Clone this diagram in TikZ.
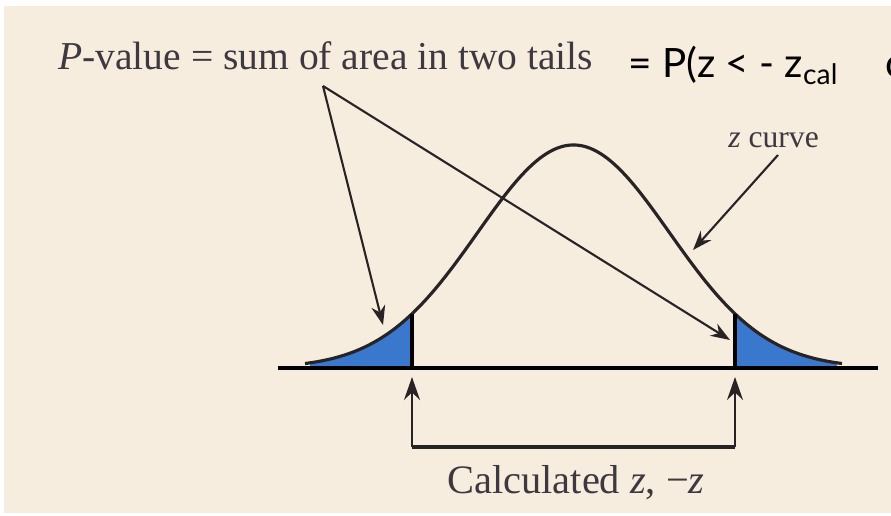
\documentclass[tikz,border=0pt]{standalone}
\usepackage{fontspec}
\setmainfont{Liberation Serif}
\newfontfamily\gillfont{Lato}
\usepackage{tikz}
\usetikzlibrary{arrows.meta, positioning, calc}
\definecolor{paper}{RGB}{246,237,222}
\definecolor{tailblue}{RGB}{58,120,206}
\definecolor{inkgray}{RGB}{40,36,38}
\definecolor{textgray}{RGB}{62,56,64}
\tikzset{
  label/.style={inner sep=0pt, text=textgray, font=\fontsize{22.5}{27}\selectfont},
  pointer/.style={-{Stealth[length=11pt, width=8pt]}, line width=1.2pt, color=inkgray},
  uparrow/.style={-{Stealth[length=13pt, width=9pt]}, line width=1.5pt, color=inkgray},
  zcurve/.style={line width=1.8pt, color=inkgray},
  axisline/.style={line width=2.2pt, color=black},
  critline/.style={line width=2.5pt, color=black},
  bracketline/.style={line width=1.8pt, color=inkgray},
}
\begin{document}
\begin{tikzpicture}[x=0.02cm, y=-0.02cm]
  \useasboundingbox (0,0) rectangle (891,516);
  \clip (0,0) rectangle (891,516);
  \fill[paper] (4,6) rectangle (891,513);
  % tails
  \fill[tailblue] (310,368) -- plot[domain=310:412, samples=40]
        (\x, {368-223*exp(-((\x-573.5)/96)^2/2)}) -- (412,368) -- cycle;
  \fill[tailblue] (735,368) -- plot[domain=735:837, samples=40]
        (\x, {368-223*exp(-((\x-573.5)/96)^2/2)}) -- (837,368) -- cycle;
  \draw[zcurve] plot[domain=305:842, samples=150]
        (\x, {368-223*exp(-((\x-573.5)/96)^2/2)});
  \draw[axisline] (278,368) -- (878,368);
  \draw[critline] (412,368) -- (412,{368-223*exp(-((412-573.5)/96)^2/2)});
  \draw[critline] (735,368) -- (735,{368-223*exp(-((735-573.5)/96)^2/2)});
  % labels
  \node[label, anchor=base west] (pval) at (58,70)
        {\textit{P}-value = sum of area in two tails};
  \node[inner sep=0pt, anchor=base west, font=\gillfont\fontsize{23}{28}\selectfont]
        (prob) at (628,78) {= P(z < - z\textsubscript{cal}\hspace{0.9em} or};
  \node[label, anchor=base west, font=\fontsize{18}{22}\selectfont] (zlab) at (728,148)
        {\textit{z} curve};
  \node[label, anchor=base, font=\fontsize{23}{28}\selectfont] (calc) at (576,493)
        {Calculated \textit{z}, −\textit{z}};
  % pointers
  \coordinate (apex) at (323,86);
  \coordinate (lefttip) at (383,325);
  \coordinate (righttip) at (730,340);
  \coordinate (curvept) at (693,250);
  \draw[pointer] (apex) -- (lefttip);
  \draw[pointer] (apex) -- (righttip);
  \draw[pointer] (778,155) -- (curvept);
  % bracket under the axis
  \coordinate (lbr) at (412,447);
  \coordinate (rbr) at (735,447);
  \draw[bracketline] (lbr) -- (rbr);
  \draw[uparrow] (lbr) -- (412,377);
  \draw[uparrow] (rbr) -- (735,377);
\end{tikzpicture}
\end{document}
